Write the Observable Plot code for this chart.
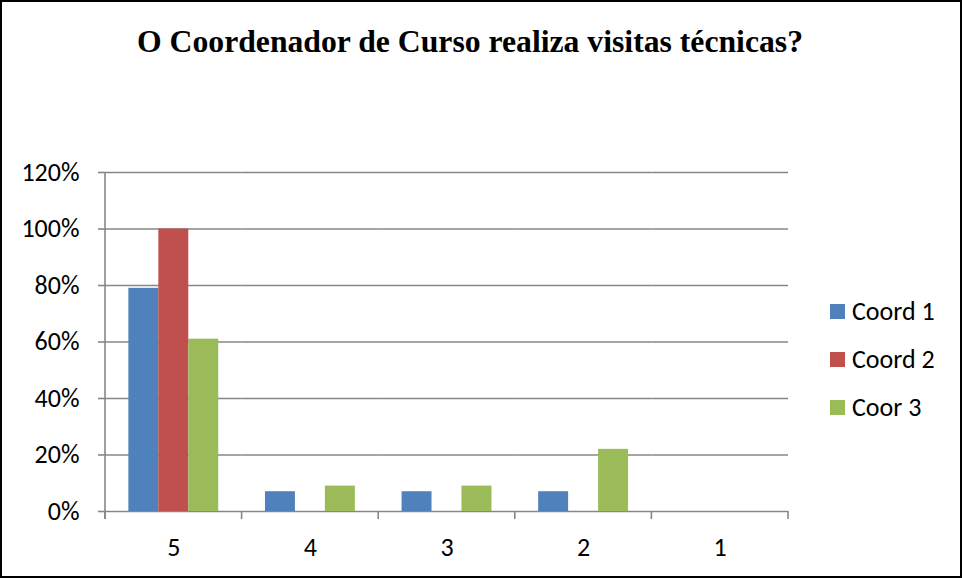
<!DOCTYPE html>
<html>
<head>
<meta charset="utf-8">
<script src="https://cdn.jsdelivr.net/npm/d3@7"></script>
<script src="https://cdn.jsdelivr.net/npm/@observablehq/plot@0.6"></script>
<style>
  html, body { margin: 0; padding: 0; background: #fff; }
  #wrap { position: relative; width: 962px; height: 578px; overflow: hidden; background: #fff; }
  #legend { position: absolute; left: 830px; top: 287px; font-size: 26px; color: #000; }
  .item { display: flex; align-items: center; height: 48px; }
  .sw { width: 15px; height: 15px; margin-right: 7px; }
  #border { position: absolute; left: 0; top: 0; width: 962px; height: 578px; box-sizing: border-box; border: 2px solid #000; pointer-events: none; }
  #chart svg { display: block; }
</style>
</head>
<body>
<div id="wrap">
  <div id="chart"></div>
  <div id="legend" style="font-family: Carlito, Lato, sans-serif;"></div>
  <div id="border"></div>
</div>
<script>
const titleText = "O Coordenador de Curso realiza visitas técnicas?";
const categories = ["5", "4", "3", "2", "1"];
const seriesNames = ["Coord 1", "Coord 2", "Coor 3"];
const seriesColors = ["#4F81BD", "#C0504D", "#9BBB59"];
const coord1 = [0.79, 0.07, 0.07, 0.07, 0];
const coord2 = [1.00, 0, 0, 0, 0];
const coord3 = [0.61, 0.09, 0.09, 0.22, 0];
const yTicks = [0, 0.2, 0.4, 0.6, 0.8, 1.0, 1.2];

const seriesValues = [coord1, coord2, coord3];
const data = [];
categories.forEach((c, i) => {
  seriesNames.forEach((s, j) => data.push({cat: c, series: s, value: seriesValues[j][i]}));
});

const gridColor = "#878787";
const fontFam = "Carlito, Lato, sans-serif";

const chart = Plot.plot({
  width: 962,
  height: 578,
  marginTop: 172,
  marginBottom: 67,
  marginLeft: 105,
  marginRight: 174,
  style: {fontFamily: fontFam, fontSize: "26px", color: "#000", background: "#fff"},
  fx: {domain: categories, padding: 0, round: false, label: null},
  x: {domain: seriesNames, paddingInner: 0, paddingOuter: 0.78, round: false, axis: null},
  y: {domain: [0, 1.2], axis: null},
  color: {domain: seriesNames, range: seriesColors},
  marks: [
    Plot.ruleY(yTicks, {y: d => d, stroke: gridColor, strokeWidth: 1.6}),
    Plot.barY(data, {fx: "cat", x: "series", y: "value", fill: "series"}),
    Plot.axisY({ticks: yTicks, tickFormat: d3.format(".0%"), tickSize: 7, tickPadding: 19,
      stroke: gridColor, strokeWidth: 1.6, fontSize: 26, fill: "#000", label: null}),
    Plot.axisFx({anchor: "bottom", tickSize: 0, tickPadding: 26, fontSize: 26, fill: "#000", label: null})
  ]
});
document.getElementById("chart").appendChild(chart);

// Excel-style axis line and category boundary ticks, placed through Plot's scales
const fx = chart.scale("fx");
const y = chart.scale("y");
const svg = d3.select(chart);
const g = svg.append("g").attr("stroke", gridColor).attr("stroke-width", 1.6);
const y0 = y.apply(0);
const x0 = fx.apply(categories[0]);
g.append("line").attr("x1", x0).attr("x2", x0).attr("y1", y.apply(1.2)).attr("y2", y0 + 8);
const bounds = categories.map(c => fx.apply(c)).concat([fx.apply(categories[categories.length - 1]) + fx.bandwidth]);
bounds.forEach(bx => {
  g.append("line").attr("x1", bx).attr("x2", bx).attr("y1", y0).attr("y2", y0 + 8);
});

// Title
svg.append("text")
  .attr("x", 470).attr("y", 52)
  .attr("text-anchor", "middle")
  .attr("style", "font-family: 'Liberation Serif', 'Times New Roman', serif; font-weight: bold; font-size: 31.7px;")
  .attr("fill", "#000")
  .text(titleText);

// Legend
const legend = document.getElementById("legend");
seriesNames.forEach((s, i) => {
  const item = document.createElement("div");
  item.className = "item";
  const sw = document.createElement("div");
  sw.className = "sw";
  sw.style.background = seriesColors[i];
  const t = document.createElement("span");
  t.textContent = s;
  item.appendChild(sw);
  item.appendChild(t);
  legend.appendChild(item);
});
</script>
</body>
</html>
